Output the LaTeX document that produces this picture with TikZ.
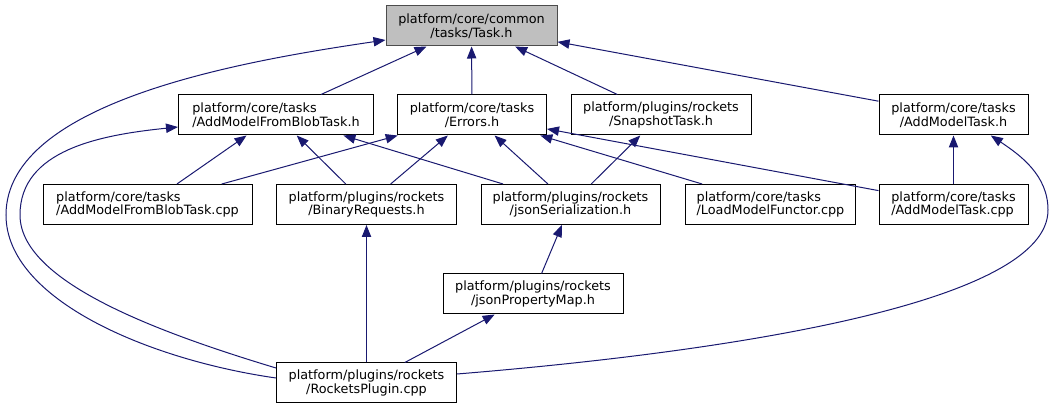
\documentclass[tikz,border=0pt]{standalone}
\usepackage{fontspec}
\setmainfont{DejaVu Sans}
\usetikzlibrary{arrows.meta}
\definecolor{edgeblue}{RGB}{25,25,112}
\definecolor{rootgray}{RGB}{191,191,191}

\begin{document}
\begin{tikzpicture}[x=0.75pt, y=-0.75pt,
    hdr/.style={draw=black, fill=white, line width=0.75pt, minimum height=30pt, inner sep=0pt, align=center, font=\fontsize{9.6}{10.3}\selectfont},
    root/.style={hdr, draw=black!70, fill=rootgray},
    dep/.style={draw=edgeblue, line width=0.75pt, -{Triangle[length=9pt, width=7pt, fill=edgeblue]}}]
    \useasboundingbox (0,0) rectangle (1054,409);
    \node[root, minimum width=128.25pt] (task) at (471.5,26) {platform/core/common\\/tasks/Task.h};
    \node[hdr, minimum width=146.25pt, align=left] (amfbth) at (276,115) {platform/core/tasks\\/AddModelFromBlobTask.h};
    \node[hdr, minimum width=111.75pt] (errors) at (472,115) {platform/core/tasks\\/Errors.h};
    \node[hdr, minimum width=135pt] (snap) at (661,115) {platform/plugins/rockets\\/SnapshotTask.h};
    \node[hdr, minimum width=111.75pt] (amth) at (953.5,115) {platform/core/tasks\\/AddModelTask.h};
    \node[hdr, minimum width=156.75pt, align=left] (amfbcpp) at (147.5,204.5) {platform/core/tasks\\/AddModelFromBlobTask.cpp};
    \node[hdr, minimum width=135pt] (binreq) at (366.5,204.5) {platform/plugins/rockets\\/BinaryRequests.h};
    \node[hdr, minimum width=134.25pt] (jsonser) at (570.5,204.5) {platform/plugins/rockets\\/jsonSerialization.h};
    \node[hdr, minimum width=127.5pt, align=left] (loadmf) at (770.5,204.5) {platform/core/tasks\\/LoadModelFunctor.cpp};
    \node[hdr, minimum width=111.75pt, align=left] (amtcpp) at (953.5,204.5) {platform/core/tasks\\/AddModelTask.cpp};
    \node[hdr, minimum width=135pt] (jsonpm) at (533,294) {platform/plugins/rockets\\/jsonPropertyMap.h};
    \node[hdr, minimum width=135pt] (rocket) at (366.5,383) {platform/plugins/rockets\\/RocketsPlugin.cpp};
    \draw[dep] (amfbth) -- (task);
    \draw[dep] (errors) -- (task);
    \draw[dep] (snap) -- (task);
    \draw[dep] (amth) -- (task);
    \draw[dep] ([yshift=3.75pt]rocket.west) .. controls (150,360) and (6,300) .. (6,215)
        .. controls (6,100) and (250,60) .. ([yshift=-10.5pt]task.west);
    \draw[dep] (amfbcpp) -- (amfbth);
    \draw[dep] (binreq) -- (amfbth);
    \draw[dep] (jsonser) -- (amfbth);
    \draw[dep] ([yshift=11.25pt]rocket.west) .. controls (150,330) and (20,280) .. (20,215)
        .. controls (20,150) and (100,135) .. ([yshift=-9pt]amfbth.west);
    \draw[dep] (amfbcpp) -- (errors);
    \draw[dep] (binreq) -- (errors);
    \draw[dep] (jsonser) -- (errors);
    \draw[dep] (loadmf) -- (errors);
    \draw[dep] (amtcpp) -- (errors);
    \draw[dep] (jsonser) -- (snap);
    \draw[dep] (amtcpp) -- (amth);
    \draw[dep] ([yshift=6.75pt]rocket.east) .. controls (750,350) and (1048,300) .. (1048,210)
        .. controls (1048,175) and (1020,155) .. ([xshift=28pt]amth.south);
    \draw[dep] (jsonpm) -- (jsonser);
    \draw[dep] (rocket) -- (binreq);
    \draw[dep] (rocket) -- (jsonpm);
\end{tikzpicture}
\end{document}
